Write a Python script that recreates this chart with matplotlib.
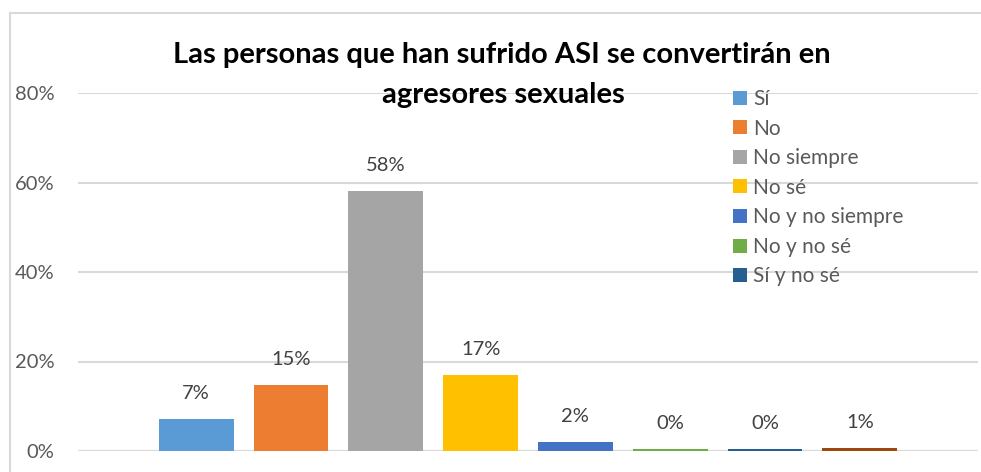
import matplotlib
matplotlib.use("Agg")
import matplotlib.pyplot as plt
import numpy as np
from matplotlib.patches import Patch

categories = ["Sí", "No", "No siempre", "No sé", "No y no siempre", "No y no sé", "Sí y no sé", ""]
values = [0.071, 0.147, 0.582, 0.170, 0.019, 0.004, 0.004, 0.007]
colors = ["#5B9BD5", "#ED7D31", "#A5A5A5", "#FFC000", "#4472C4", "#70AD47", "#255E91", "#9E480E"]
yticks = [0, 0.2, 0.4, 0.6, 0.8]
ytick_labels = ["0%", "20%", "40%", "60%", "80%"]
title_lines = ["Las personas que han sufrido ASI se convertirán en", "agresores sexuales"]

plt.rcParams['font.family'] = ['Lato', 'DejaVu Sans']

W, H = 981, 472
fig = plt.figure(figsize=(W / 100, H / 100), dpi=100)

# chart border (only top and left visible in the crop)
fig.add_artist(plt.Line2D([10 / W, 10 / W], [0, 1 - 13 / H], transform=fig.transFigure,
                          color="#D9D9D9", linewidth=1.5))
fig.add_artist(plt.Line2D([10 / W, 1.01], [1 - 13 / H, 1 - 13 / H], transform=fig.transFigure,
                          color="#D9D9D9", linewidth=1.5))

ax = fig.add_axes([78 / W, 21 / H, 900 / W, (451 - 93) / H])
x = np.arange(len(values))
ax.bar(x, values, width=0.79, color=colors, zorder=3)
ax.set_xlim(-1.247, len(values) - 1 + 1.247)
ax.set_ylim(0, 0.8)
ax.set_yticks(yticks)
ax.set_yticklabels(ytick_labels, color="#595959", fontsize=14.5)
ax.set_xticks([])
ax.tick_params(axis="y", length=0, pad=17)
ax.grid(axis="y", color="#D9D9D9", linewidth=1.5, zorder=0)
for s in ax.spines.values():
    s.set_visible(False)
ax.axhline(0, color="#D9D9D9", linewidth=1.5, zorder=2)

for xi, v in zip(x, values):
    ax.text(xi, v + 0.038, f"{v:.0%}", ha="center", va="bottom", color="#404040", fontsize=14.5)

fig.text(501.5 / W, 1 - 63 / H, title_lines[0], ha="center", va="baseline", fontsize=21,
         fontweight="bold", color="black")
fig.text(503 / W, 1 - 103 / H, title_lines[1], ha="center", va="baseline", fontsize=21,
         fontweight="bold", color="black")

handles = [Patch(facecolor=c, edgecolor="none") for c in colors[:7]]
leg = fig.legend(handles, categories[:7], loc="upper left", bbox_to_anchor=(733 / W, 1 - 89 / H),
                 frameon=False, fontsize=15, handlelength=0.65, handleheight=0.65,
                 handletextpad=0.3, labelspacing=0.46, borderpad=0, borderaxespad=0)
for t in leg.get_texts():
    t.set_color("#595959")

fig.savefig("out.png", dpi=100)
